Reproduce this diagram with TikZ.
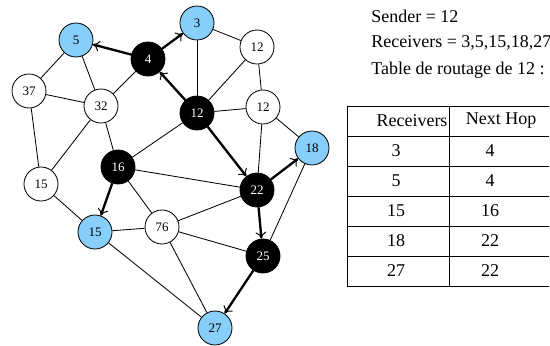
\documentclass[tikz,border=0pt]{standalone}
\usepackage{fontspec}
\setmainfont{Liberation Serif}
\usetikzlibrary{arrows.meta}
\definecolor{rcvblue}{RGB}{135,206,250}
\tikzset{
	hop/.style={circle,draw,fill=white,line width=0.5pt,minimum size=20.4pt,inner sep=0pt,font=\fontsize{7.8}{9}\selectfont},
	relay/.style={hop,fill=black,text=white},
	rcv/.style={hop,fill=rcvblue},
	link/.style={line width=0.5pt},
	route/.style={line width=1.4pt,-{To[length=4pt,width=6.5pt,line width=0.6pt]}},
	txt/.style={anchor=west,inner sep=0pt,font=\fontsize{10.8}{13}\selectfont},
	cell/.style={inner sep=0pt,font=\fontsize{10.8}{13}\selectfont}
}
\begin{document}
\begin{tikzpicture}[x=0.6pt,y=-0.6pt]
	\useasboundingbox (0,0) rectangle (550,345);
	% Nodes
	\node[rcv]   (n5)   at (76,40)   {5};
	\node[rcv]   (n3)   at (197,23)  {3};
	\node[relay] (n4)   at (148,59)  {4};
	\node[hop]   (n12a) at (257,47)  {12};
	\node[hop]   (n37)  at (29,91)   {37};
	\node[hop]   (n32)  at (101,106) {32};
	\node[relay] (n12)  at (197,113) {12};
	\node[hop]   (n12b) at (263,107) {12};
	\node[rcv]   (n18)  at (312,148) {18};
	\node[relay] (n16)  at (118,167) {16};
	\node[hop]   (n15a) at (41,184)  {15};
	\node[relay] (n22)  at (257,190) {22};
	\node[rcv]   (n15)  at (95,232)  {15};
	\node[hop]   (n76)  at (162,227) {76};
	\node[relay] (n25)  at (263,256) {25};
	\node[rcv]   (n27)  at (215,328) {27};
	% Links
	\foreach \a/\b in {n5/n37, n5/n32, n4/n32, n3/n12a, n3/n12, n12a/n12, n12a/n12b,
		n12/n12b, n12b/n18, n12b/n22, n37/n32, n37/n15a, n32/n15a, n32/n16, n12/n16,
		n16/n22, n16/n76, n15a/n15, n15/n76, n76/n22, n76/n25, n18/n25, n15/n27, n76/n27}
		\draw[link] (\a) -- (\b);
	% Multicast tree from 12
	\foreach \a/\b in {n12/n4, n4/n5, n4/n3, n12/n22, n22/n18, n22/n25, n25/n27, n16/n15}
		\draw[route] (\a) -- (\b);
	% Header
	\node[txt] (sender) at (371,16) {Sender = 12};
	\node[txt] (recv)   at (371,43) {Receivers = 3,5,15,18,27};
	\node[txt] (title)  at (371,70) {Table de routage de 12 :};
	% Routing table
	\draw[line width=0.6pt] (549,106) -- (347,106) -- (347,286) -- (549,286);
	\draw[line width=0.6pt] (449,106) -- (449,286);
	\foreach \y in {136,166,196,226,256}
		\draw[line width=0.6pt] (347,\y) -- (549,\y);
	\node[cell] (hrcv) at (412,121) {Receivers};
	\node[cell] (hhop) at (501,121) {Next Hop};
	\foreach \r/\h [count=\i] in {3/4, 5/4, 15/16, 18/22, 27/22} {
		\node[cell] (r\i) at (396,121+30*\i) {\r}; % receiver
		\node[cell] (h\i) at (490,121+30*\i) {\h}; % next hop
	}
\end{tikzpicture}
\end{document}
